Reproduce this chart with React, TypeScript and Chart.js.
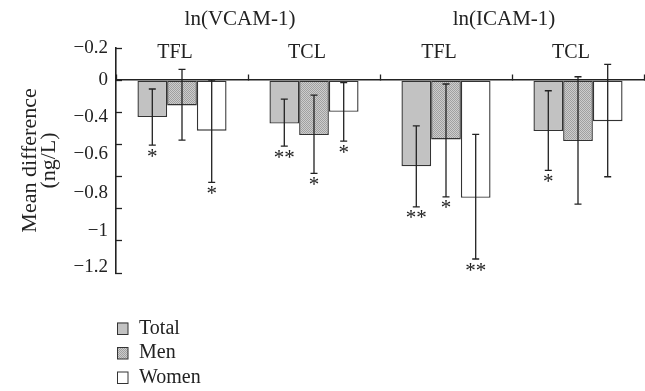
import React, { useEffect, useRef } from 'react';
import { Chart, registerables } from 'chart.js';

Chart.register(...registerables);

// ---- data ----
const categories = ['TFL', 'TCL', 'TFL', 'TCL'];
const groups = ['ln(VCAM-1)', 'ln(ICAM-1)'];

const totalMean = [-0.23, -0.27, -0.535, -0.317];
const menMean = [-0.157, -0.342, -0.369, -0.379];
const womenMean = [-0.315, -0.197, -0.732, -0.255];

const totalUpper = [-0.055, -0.118, -0.284, -0.066];
const totalLower = [-0.404, -0.41, -0.788, -0.561];
const menUpper = [0.067, -0.093, -0.024, 0.021];
const menLower = [-0.373, -0.58, -0.726, -0.771];
const womenUpper = [0.0, -0.016, -0.337, 0.098];
const womenLower = [-0.636, -0.379, -1.113, -0.601];

const totalSig = ['*', '**', '**', '*'];
const menSig = ['', '*', '*', ''];
const womenSig = ['*', '*', '**', ''];

// y axis: tick marks and the printed tick labels (as printed in the source figure)
const yTickMarks = [0.2, 0, -0.2, -0.4, -0.6, -0.8, -1.0, -1.2];
const yTickLabels = ['\u22120.2', '0', '\u22120.4', '\u22120.6', '\u22120.8', '\u22121', '\u22121.2'];
const yTickLabelAt = [0.2, 0, -0.23, -0.46, -0.703, -0.939, -1.163];

const FONT = "'Liberation Serif', 'Times New Roman', serif";
const INK = '#222';

export default function App() {
  const ref = useRef<HTMLCanvasElement>(null);

  useEffect(() => {
    const canvas = ref.current;
    if (!canvas) return;

    // hatched fill for "Men"
    const tile = document.createElement('canvas');
    tile.width = 4;
    tile.height = 4;
    const tctx = tile.getContext('2d')!;
    tctx.fillStyle = '#cdcdcd';
    tctx.fillRect(0, 0, 4, 4);
    tctx.fillStyle = '#a0a0a0';
    for (let x = 0; x < 4; x++) {
      for (let y = 0; y < 4; y++) {
        if ((x + y) % 2 === 0) tctx.fillRect(x, y, 1, 1);
      }
    }
    const ctx0 = canvas.getContext('2d')!;
    const menFill = ctx0.createPattern(tile, 'repeat') as any;

    const uppers = [totalUpper, menUpper, womenUpper];
    const lowers = [totalLower, menLower, womenLower];
    const sigs = [totalSig, menSig, womenSig];

    const errorBars = {
      id: 'errorBars',
      afterDatasetsDraw(chart: any) {
        const ctx = chart.ctx;
        const ys = chart.scales.y;
        ctx.save();
        ctx.strokeStyle = INK;
        ctx.lineWidth = 1.3;
        ctx.fillStyle = INK;
        ctx.font = `21px ${FONT}`;
        ctx.textAlign = 'center';
        ctx.textBaseline = 'top';
        chart.data.datasets.forEach((_ds: any, d: number) => {
          const meta = chart.getDatasetMeta(d);
          meta.data.forEach((bar: any, i: number) => {
            const x = bar.x;
            const yHi = ys.getPixelForValue(uppers[d][i]);
            const yLo = ys.getPixelForValue(lowers[d][i]);
            ctx.beginPath();
            ctx.moveTo(x, yHi);
            ctx.lineTo(x, yLo);
            ctx.moveTo(x - 3.5, yHi);
            ctx.lineTo(x + 3.5, yHi);
            ctx.moveTo(x - 3.5, yLo);
            ctx.lineTo(x + 3.5, yLo);
            ctx.stroke();
            const s = sigs[d][i];
            if (s) ctx.fillText(s, x, yLo + 1.5);
          });
        });
        ctx.restore();
      },
    };

    const legendPlugin = {
      id: 'stackedLegend',
      afterDraw(chart: any) {
        const ctx = chart.ctx;
        ctx.save();
        ctx.font = `20px ${FONT}`;
        ctx.textBaseline = 'middle';
        ctx.textAlign = 'left';
        chart.data.datasets.forEach((ds: any, i: number) => {
          const cy = 328.5 + i * 24.5;
          ctx.fillStyle = ds.backgroundColor;
          ctx.fillRect(117, cy - 6, 11, 12);
          ctx.strokeStyle = '#333';
          ctx.lineWidth = 1;
          ctx.strokeRect(117.5, cy - 5.5, 10.5, 11.5);
          ctx.fillStyle = INK;
          ctx.fillText(ds.label, 139, cy);
        });
        ctx.restore();
      },
    };

    const near = (a: number, b: number) => Math.abs(a - b) < 1e-6;

    const chart = new Chart(canvas, {
      type: 'bar',
      data: {
        labels: categories,
        datasets: [
          { label: 'Total', data: totalMean, backgroundColor: '#c2c2c2', borderColor: '#333', borderWidth: 1.4, borderSkipped: false },
          { label: 'Men', data: menMean, backgroundColor: menFill, borderColor: '#333', borderWidth: 1.4, borderSkipped: false },
          { label: 'Women', data: womenMean, backgroundColor: '#ffffff', borderColor: '#333', borderWidth: 1.4, borderSkipped: false },
        ],
      },
      options: {
        responsive: false,
        animation: false,
        devicePixelRatio: 1,
        layout: { padding: { left: 0, top: 0, right: 1, bottom: 118 } },
        datasets: { bar: { categoryPercentage: 0.675, barPercentage: 1.0 } },
        plugins: { legend: { display: false }, tooltip: { enabled: false } },
        scales: {
          x: {
            type: 'category',
            position: { y: 0 } as any,
            offset: true,
            grid: { offset: true, drawOnChartArea: false, drawTicks: true, tickLength: -6, tickColor: INK, tickWidth: 1.3 },
            border: { display: true, color: INK, width: 1.5 },
            ticks: { font: { family: FONT, size: 20 }, color: INK, padding: -33, labelOffset: -7, maxRotation: 0, autoSkip: false },
          },
          xGroup: {
            type: 'category',
            position: 'top',
            labels: groups,
            offset: true,
            grid: { display: false, drawTicks: false },
            border: { display: false },
            ticks: { font: { family: FONT, size: 21 }, color: INK, padding: 16, labelOffset: -8, maxRotation: 0, autoSkip: false },
            afterFit: (s: any) => { s.height = 48; },
          },
          y: {
            type: 'linear',
            min: -1.2,
            max: 0.2,
            afterBuildTicks: (s: any) => {
              const vals: number[] = [...yTickMarks];
              yTickLabelAt.forEach((v) => { if (!vals.some((m) => near(m, v))) vals.push(v); });
              vals.sort((a, b) => a - b);
              s.ticks = vals.map((v) => ({ value: v }));
            },
            afterFit: (s: any) => { s.width = 116; },
            grid: {
              drawOnChartArea: false,
              drawTicks: true,
              tickLength: -6,
              tickWidth: 1.3,
              tickColor: (c: any) => (c.tick && yTickMarks.some((m) => near(m, c.tick.value)) ? INK : 'rgba(0,0,0,0)'),
            },
            border: { display: true, color: INK, width: 1.6 },
            ticks: {
              autoSkip: false,
              font: { family: FONT, size: 19 },
              color: INK,
              padding: 14,
              callback: (v: any) => {
                const idx = yTickLabelAt.findIndex((p) => near(p, Number(v)));
                return idx >= 0 ? yTickLabels[idx] : '';
              },
            },
            title: {
              display: true,
              text: ['Mean difference', '(ng/L)'],
              font: { family: FONT, size: 22, lineHeight: 0.86 },
              color: INK,
              padding: { top: 20.5, bottom: 0 },
            },
          },
        },
      },
      plugins: [errorBars, legendPlugin],
    } as any);

    return () => chart.destroy();
  }, []);

  return (
    <div style={{ position: 'absolute', left: 0, top: 0, width: 645, height: 391 }}>
      <canvas ref={ref} width={645} height={391} style={{ display: 'block' }} />
    </div>
  );
}
